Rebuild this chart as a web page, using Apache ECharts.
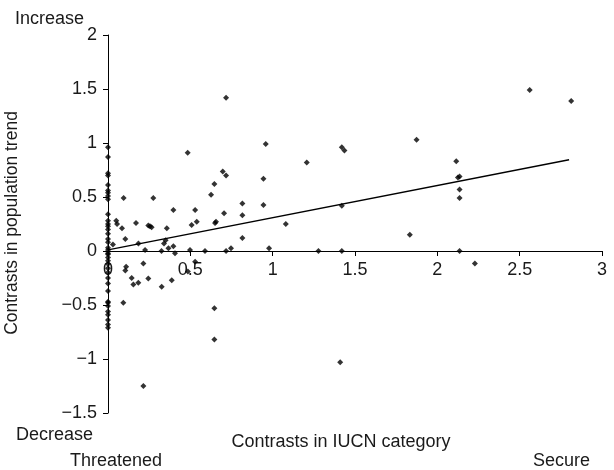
<!DOCTYPE html>
<html>
<head>
<meta charset="utf-8">
<script src="https://cdn.jsdelivr.net/npm/echarts@6/dist/echarts.min.js"></script>
<style>html,body{margin:0;padding:0;background:#fff}#c{width:614px;height:470px}</style>
</head>
<body>
<div id="c"></div>
<script>
// Points lying on the y-axis (IUCN contrast = 0)
const axisY = [0.96, 0.87, 0.72, 0.70, 0.61, 0.56, 0.54, 0.51, 0.48, 0.34, 0.28, 0.25, 0.23, 0.20, 0.16, 0.11, 0.08, 0.03, 0.01,
  -0.02, -0.03, -0.06, -0.09, -0.12, -0.16, -0.20, -0.25, -0.30, -0.37, -0.47, -0.48, -0.51, -0.56, -0.59, -0.64, -0.68, -0.71];
// Other contrasts: IUCN category contrast (x) and population trend contrast (y)
const contrastX = [0.03, 0.05, 0.055, 0.085, 0.095, 0.105, 0.17, 0.185, 0.225, 0.245, 0.255, 0.265, 0.275, 0.325, 0.34, 0.35, 0.357, 0.367, 0.397, 0.397, 0.407,
  0.484, 0.498, 0.508, 0.529, 0.539, 0.589, 0.626, 0.646, 0.65, 0.656, 0.697, 0.717, 0.717, 0.705, 0.717, 0.747, 0.816, 0.816, 0.816, 0.944, 0.944, 0.958, 0.978,
  1.08, 1.207, 1.278, 1.42, 1.436, 1.42, 1.42, 1.41, 1.833, 1.874, 2.115, 2.125, 2.135, 2.135, 2.135, 2.135, 2.228, 2.561, 2.813,
  0.093, 0.105, 0.11, 0.144, 0.154, 0.184, 0.215, 0.215, 0.245, 0.326, 0.387, 0.485, 0.529, 0.646, 0.646];
const contrastY = [0.06, 0.28, 0.25, 0.21, 0.49, 0.11, 0.26, 0.07, 0.01, 0.235, 0.23, 0.22, 0.49, 0.0, 0.07, 0.10, 0.21, 0.025, 0.38, 0.045, -0.02,
  0.91, 0.01, 0.24, 0.38, 0.27, 0.0, 0.52, 0.62, 0.26, 0.27, 0.735, 0.70, 1.42, 0.35, 0.0, 0.025, 0.44, 0.33, 0.12, 0.67, 0.425, 0.99, 0.025,
  0.25, 0.82, 0.0, 0.96, 0.93, 0.42, 0.0, -1.03, 0.15, 1.03, 0.83, 0.68, 0.69, 0.57, 0.49, 0.0, -0.115, 1.49, 1.39,
  -0.48, -0.18, -0.145, -0.25, -0.31, -0.295, -0.115, -1.25, -0.255, -0.33, -0.27, -0.19, -0.10, -0.53, -0.82];
// Fitted regression line end points
const fitX = [0, 2.8];
const fitY = [0.01, 0.845];
const xTicks = [0, 0.5, 1, 1.5, 2, 2.5, 3];
const yTicks = [-1.5, -1, -0.5, 0, 0.5, 1, 1.5, 2];

const pts = axisY.map(v => [0, v]).concat(contrastX.map((x, i) => [x, contrastY[i]]));
const fit = fitX.map((x, i) => [x, fitY[i]]);
const fmt = v => (v < 0 ? '\u2212' + String(-v) : String(v));
const F = '"Liberation Sans", Arial, sans-serif';
const TC = '#1a1a1a';

const W = 614, H = 470, GT = 35, GB = 57;
const yMin = yTicks[0], yMax = yTicks[yTicks.length - 1];
const gridH = H - GT - GB;
// shift the x axis (line, ticks, labels) up from the grid bottom to where y = 0 sits
const zeroShift = gridH * (0 - yMin) / (yMax - yMin);

const chart = echarts.init(document.getElementById('c'));
chart.setOption({
  animation: false,
  grid: {left: 108, right: 12, top: GT, bottom: GB},
  xAxis: {
    type: 'value', min: xTicks[0], max: xTicks[xTicks.length - 1], interval: 0.5,
    position: 'bottom', offset: -zeroShift,
    axisLine: {onZero: false, lineStyle: {color: '#000', width: 1}},
    axisTick: {show: true, length: 5, lineStyle: {color: '#000'}},
    axisLabel: {color: TC, fontSize: 18, fontFamily: F, margin: 10, formatter: fmt},
    splitLine: {show: false}
  },
  yAxis: {
    type: 'value', min: yMin, max: yMax, interval: 0.5,
    axisLine: {show: true, onZero: false, lineStyle: {color: '#000', width: 1}},
    axisTick: {show: true, length: 5, lineStyle: {color: '#000'}},
    axisLabel: {color: TC, fontSize: 18, fontFamily: F, margin: 11, formatter: fmt},
    splitLine: {show: false}
  },
  series: [
    {type: 'scatter', data: pts, symbol: 'diamond', symbolSize: 6, itemStyle: {color: '#000'}, z: 3},
    {type: 'line', data: fit, symbol: 'none', lineStyle: {color: '#000', width: 1.3}, z: 2}
  ],
  graphic: [
    {type: 'text', left: 15, top: 10, style: {text: 'Increase', font: '18px ' + F, fill: TC}},
    {type: 'text', left: 16, top: 426, style: {text: 'Decrease', font: '18px ' + F, fill: TC}},
    {type: 'text', left: 70, top: 452, style: {text: 'Threatened', font: '18px ' + F, fill: TC}},
    {type: 'text', right: 24, top: 452, style: {text: 'Secure', font: '18px ' + F, fill: TC}},
    {type: 'text', x: 341, y: 442, style: {text: 'Contrasts in IUCN category', font: '18px ' + F, fill: TC, textAlign: 'center', textVerticalAlign: 'middle'}},
    {type: 'text', x: 12, y: 223, rotation: Math.PI / 2, style: {text: 'Contrasts in population trend', font: '17.5px ' + F, fill: TC, textAlign: 'center', textVerticalAlign: 'middle'}}
  ]
});
</script>
</body>
</html>
